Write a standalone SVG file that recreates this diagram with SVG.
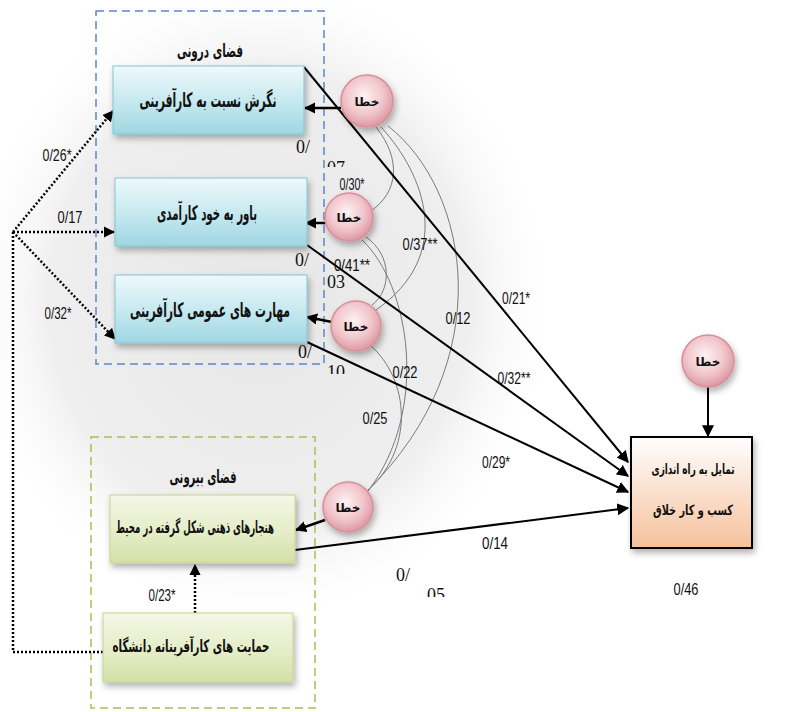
<svg xmlns="http://www.w3.org/2000/svg" width="807" height="712" viewBox="0 0 807 712">
<defs>
<radialGradient id="bg" cx="0.5" cy="0.5" r="0.5">
<stop offset="0" stop-color="#e6e6e6"/>
<stop offset="0.7" stop-color="#efefef"/>
<stop offset="1" stop-color="#ffffff" stop-opacity="0"/>
</radialGradient>
<linearGradient id="blue" x1="0" y1="0" x2="0" y2="1">
<stop offset="0" stop-color="#eef9fb"/>
<stop offset="0.55" stop-color="#c4e8ef"/>
<stop offset="1" stop-color="#9fd6e2"/>
</linearGradient>
<linearGradient id="green" x1="0" y1="0" x2="0" y2="1">
<stop offset="0" stop-color="#f4f7e6"/>
<stop offset="0.6" stop-color="#e3ecc4"/>
<stop offset="1" stop-color="#d2e0a6"/>
</linearGradient>
<linearGradient id="peach" x1="0" y1="0" x2="0" y2="1">
<stop offset="0" stop-color="#ffffff"/>
<stop offset="1" stop-color="#f6c19b"/>
</linearGradient>
<radialGradient id="err" cx="0.45" cy="0.4" r="0.6">
<stop offset="0" stop-color="#fdf2f3"/>
<stop offset="0.6" stop-color="#f1c6cb"/>
<stop offset="1" stop-color="#dd98a2"/>
</radialGradient>
<filter id="sh" x="-20%" y="-20%" width="150%" height="160%">
<feDropShadow dx="2" dy="4" stdDeviation="3" flood-color="#000" flood-opacity="0.3"/>
</filter>
<marker id="ah" viewBox="0 0 10 10" refX="9" refY="5" markerWidth="4.5" markerHeight="4.5" orient="auto" markerUnits="strokeWidth">
<path d="M0,0 L10,5 L0,10 z" fill="#000"/>
</marker>
<marker id="ahs" viewBox="0 0 10 10" refX="9" refY="5" markerWidth="6" markerHeight="6" orient="auto" markerUnits="strokeWidth">
<path d="M0,0 L10,5 L0,10 z" fill="#000"/>
</marker>
<clipPath id="c07"><rect x="320" y="150" width="40" height="17"/></clipPath>
<clipPath id="c10"><rect x="320" y="355" width="40" height="19"/></clipPath>
<clipPath id="c05"><rect x="420" y="580" width="40" height="17"/></clipPath>
</defs>
<style>
.fa{font-family:"DejaVu Sans",sans-serif;font-weight:bold;fill:#111;text-anchor:middle}
.num{font-family:"Liberation Sans",Arial,sans-serif;font-size:17px;fill:#111;text-anchor:middle}
.ser{font-family:"Liberation Serif","Times New Roman",serif;font-size:18px;fill:#111}
.bbox{fill:url(#blue);stroke:#7fc6d4;stroke-width:1}
.gbox{fill:url(#green);stroke:#c5d48e;stroke-width:1}
.errc{fill:url(#err);stroke:#d98e99;stroke-width:1.5}
.sol{stroke:#000;stroke-width:2;fill:none}
.eac{stroke:#000;stroke-width:2.5;fill:none}
.dot{stroke:#000;stroke-width:2.5;stroke-dasharray:2 2;fill:none}
.cor{stroke:#7a7a7a;stroke-width:1;fill:none}
</style>
<rect width="807" height="712" fill="#fff"/>
<ellipse cx="260" cy="300" rx="300" ry="330" fill="url(#bg)"/>

<g id="group-inner">
<rect x="96" y="11" width="228" height="353" fill="none" stroke="#5b86cc" stroke-width="1.5" stroke-dasharray="8 5"/>
<text class="fa" x="210" y="57" font-size="18" textLength="66" lengthAdjust="spacingAndGlyphs">فضای درونی</text>
</g>
<g id="group-outer">
<rect x="91" y="437" width="224" height="271" fill="none" stroke="#aebc52" stroke-width="1.5" stroke-dasharray="8 5"/>
<text class="fa" x="203" y="483" font-size="18" textLength="67" lengthAdjust="spacingAndGlyphs">فضای بیرونی</text>
</g>

<g id="connectors">
<path class="cor" d="M376,127 C402,160 398,192 371,211"/>
<path class="cor" d="M381,127 C425,175 455,255 376,310"/>
<path class="cor" d="M388,126 C470,190 500,360 368,490"/>
<path class="cor" d="M366,237 C392,255 392,290 372,305"/>
<path class="cor" d="M362,240 C410,285 430,410 368,491"/>
<path class="cor" d="M370,345 C410,380 415,450 366,492"/>
<path class="dot" d="M13,232 L113,111" marker-end="url(#ah)"/>
<path class="dot" d="M13,232 L114,232" marker-end="url(#ah)"/>
<path class="dot" d="M13,232 L115,339" marker-end="url(#ah)"/>
<path class="dot" d="M13,232 L13,652 L103,652"/>
<path class="dot" d="M195,613 L195,565" marker-end="url(#ah)"/>
<path class="sol" d="M304,67 L628,462" marker-end="url(#ahs)"/>
<path class="sol" d="M307,245 L628,476" marker-end="url(#ahs)"/>
<path class="sol" d="M307,342 L628,492" marker-end="url(#ahs)"/>
<path class="sol" d="M295,550 L628,508" marker-end="url(#ahs)"/>
<path class="eac" d="M341,108 L305,108" marker-end="url(#ah)"/>
<path class="eac" d="M326,223 L306,223" marker-end="url(#ah)"/>
<path class="eac" d="M332,322 L307,317" marker-end="url(#ah)"/>
<path class="eac" d="M325,520 L296,530" marker-end="url(#ah)"/>
<path class="sol" d="M708,386 L708,436" marker-end="url(#ahs)"/>
</g>

<g id="n1"><rect class="bbox" x="113" y="66" width="191" height="68" filter="url(#sh)"/><text class="fa" x="208" y="107" font-size="20" textLength="137" lengthAdjust="spacingAndGlyphs">نگرش نسبت به کارآفرینی</text></g>
<g id="n2"><rect class="bbox" x="115" y="178" width="192" height="68" filter="url(#sh)"/><text class="fa" x="207" y="220" font-size="20" textLength="100" lengthAdjust="spacingAndGlyphs">باور به خود کارآمدی</text></g>
<g id="n3"><rect class="bbox" x="115" y="275" width="192" height="68" filter="url(#sh)"/><text class="fa" x="210" y="317" font-size="20" textLength="160" lengthAdjust="spacingAndGlyphs">مهارت های عمومی کارآفرینی</text></g>
<g id="n4"><rect class="gbox" x="110" y="495" width="185" height="68" filter="url(#sh)"/><text class="fa" x="195" y="533" font-size="17" textLength="158" lengthAdjust="spacingAndGlyphs">هنجارهای ذهنی شکل گرفته در محیط</text></g>
<g id="n5"><rect class="gbox" x="103" y="613" width="190" height="69" filter="url(#sh)"/><text class="fa" x="191" y="652" font-size="17" textLength="157" lengthAdjust="spacingAndGlyphs">حمایت های کارآفرینانه دانشگاه</text></g>
<g id="target"><rect x="631" y="437" width="121" height="111" fill="url(#peach)" stroke="#000" stroke-width="2" filter="url(#sh)"/>
<text class="fa" x="693" y="474" font-size="14" textLength="83" lengthAdjust="spacingAndGlyphs">تمایل به راه اندازی</text>
<text class="fa" x="693" y="515" font-size="14" textLength="80" lengthAdjust="spacingAndGlyphs">کسب و کار خلاق</text></g>

<g id="e1"><circle class="errc" cx="367" cy="101" r="26" filter="url(#sh)"/><text class="fa" x="367" y="106" font-size="12">خطا</text></g>
<g id="e2"><circle class="errc" cx="349" cy="217" r="24" filter="url(#sh)"/><text class="fa" x="349" y="222" font-size="12">خطا</text></g>
<g id="e3"><circle class="errc" cx="356" cy="326" r="25" filter="url(#sh)"/><text class="fa" x="356" y="331" font-size="12">خطا</text></g>
<g id="e4"><circle class="errc" cx="348" cy="507" r="25" filter="url(#sh)"/><text class="fa" x="348" y="512" font-size="12">خطا</text></g>
<g id="e5"><circle class="errc" cx="708" cy="361" r="26" filter="url(#sh)"/><text class="fa" x="708" y="366" font-size="12">خطا</text></g>

<g id="labels">
<text class="num" x="57" y="161" textLength="29" lengthAdjust="spacingAndGlyphs">0/26*</text>
<text class="num" x="70" y="223" textLength="25" lengthAdjust="spacingAndGlyphs">0/17</text>
<text class="num" x="58" y="319" textLength="27" lengthAdjust="spacingAndGlyphs">0/32*</text>
<text class="num" x="162" y="601" textLength="27" lengthAdjust="spacingAndGlyphs">0/23*</text>
<text class="num" x="352" y="190" textLength="25" lengthAdjust="spacingAndGlyphs">0/30*</text>
<text class="num" x="352" y="271" textLength="36" lengthAdjust="spacingAndGlyphs">0/41**</text>
<text class="num" x="420" y="250" textLength="35" lengthAdjust="spacingAndGlyphs">0/37**</text>
<text class="num" x="516" y="304" textLength="28" lengthAdjust="spacingAndGlyphs">0/21*</text>
<text class="num" x="458" y="324" textLength="25" lengthAdjust="spacingAndGlyphs">0/12</text>
<text class="num" x="405" y="378" textLength="25" lengthAdjust="spacingAndGlyphs">0/22</text>
<text class="num" x="375" y="424" textLength="25" lengthAdjust="spacingAndGlyphs">0/25</text>
<text class="num" x="514" y="384" textLength="33" lengthAdjust="spacingAndGlyphs">0/32**</text>
<text class="num" x="496" y="468" textLength="28" lengthAdjust="spacingAndGlyphs">0/29*</text>
<text class="num" x="495" y="549" textLength="26" lengthAdjust="spacingAndGlyphs">0/14</text>
<text class="num" x="686" y="595" textLength="25" lengthAdjust="spacingAndGlyphs">0/46</text>
<text class="ser" x="296" y="153">0/</text>
<text class="ser" x="327" y="174" clip-path="url(#c07)">07</text>
<text class="ser" x="295" y="266">0/</text>
<text class="ser" x="327" y="288">03</text>
<text class="ser" x="298" y="358">0/</text>
<text class="ser" x="327" y="378" clip-path="url(#c10)">10</text>
<text class="ser" x="396" y="581">0/</text>
<text class="ser" x="427" y="601" clip-path="url(#c05)">05</text>
</g>
</svg>
